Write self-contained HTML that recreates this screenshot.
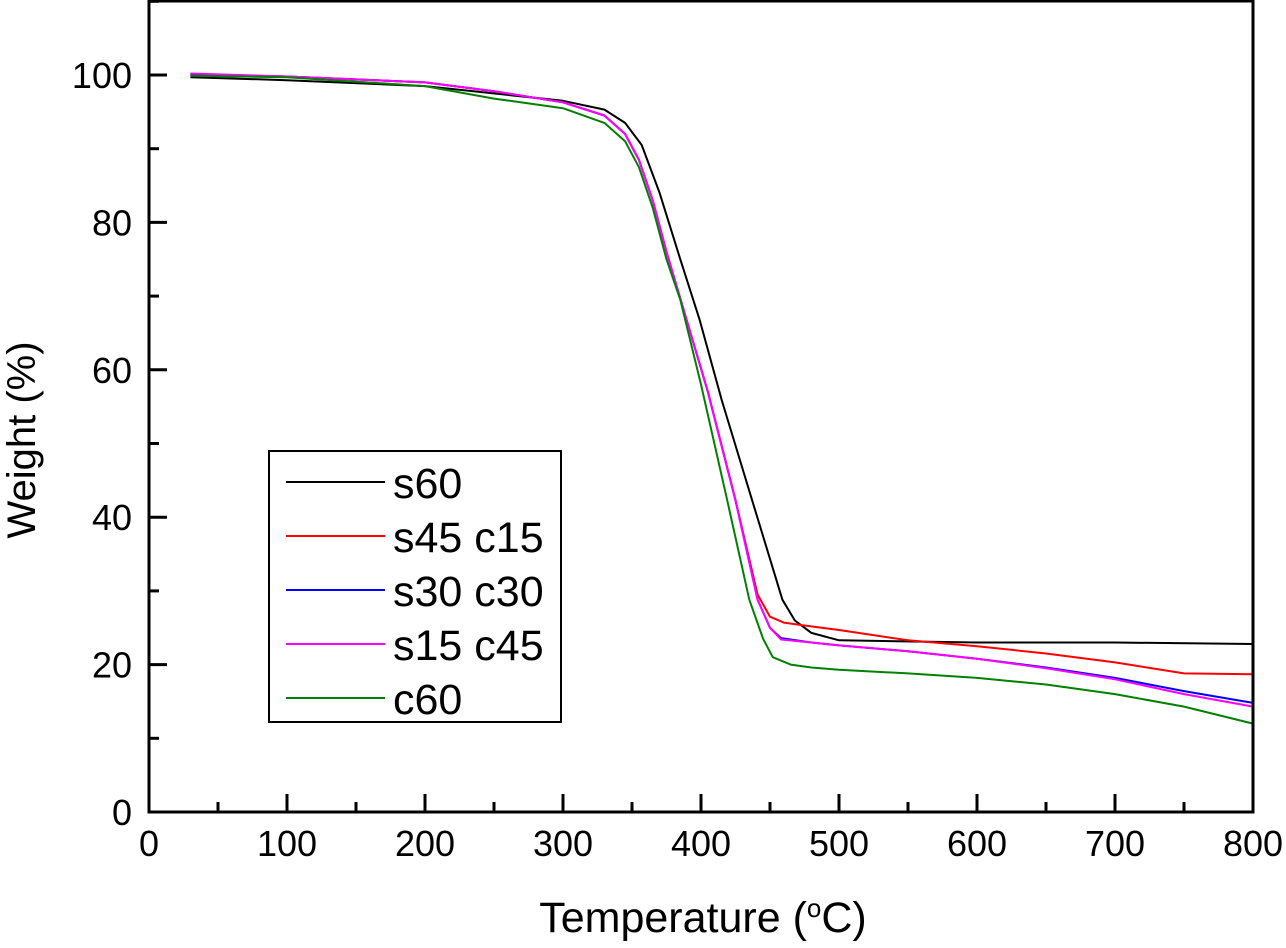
<!DOCTYPE html>
<html><head><meta charset="utf-8"><style>
html,body{margin:0;padding:0;background:#fff;}
svg text{font-family:"Liberation Sans",Arial,sans-serif;}
</style></head><body>
<svg id="chart" width="1286" height="943" viewBox="0 0 1286 943" xmlns="http://www.w3.org/2000/svg">
<g id="grid-layer"></g>
<g id="series-layer"></g>
<g id="axes-layer"></g>
</svg>
<script>
const xTicks = [0,100,200,300,400,500,600,700,800];
const yTicks = [0,20,40,60,80,100];
const seriesNames = ["s60","s45 c15","s30 c30","s15 c45","c60"];
const seriesColors = ["#000000","#ff0000","#0000ff","#ff00ff","#008000"];
const tempS60 = [30,100,200,300,330,345,357,370,385,399,415,437,459,468,480,500,600,700,800];
const wS60 = [99.7,99.3,98.5,96.5,95.3,93.5,90.5,84,75,66.8,55.9,42.3,28.8,26,24.3,23.3,23.0,23.0,22.8];
const tempS45 = [30,100,200,250,300,330,345,355,365,375,390,405,425,441,450,460,475,500,550,600,650,700,750,800];
const wS45 = [100.1,99.8,99,97.8,96.3,94.5,92,88.5,83,76,66.5,57,42.3,29.5,26.5,25.7,25.3,24.7,23.3,22.5,21.5,20.3,18.8,18.7];
const tempS30 = [30,100,200,250,300,330,345,355,365,375,390,405,425,441,450,458,480,500,550,600,650,700,750,800];
const wS30 = [100.1,99.8,99,97.8,96.3,94.5,92,88.5,83,76,66.5,57,42.3,28.8,25,23.6,23,22.6,21.8,20.8,19.6,18.2,16.4,14.8];
const tempS15 = [30,100,200,250,300,330,345,355,365,375,390,405,425,441,450,458,480,500,550,600,650,700,750,800];
const wS15 = [100.2,99.8,99,97.8,96.3,94.5,92,88.5,83,76,66.5,57,42.3,28.8,25,23.4,23,22.6,21.8,20.8,19.5,18,16,14.3];
const tempC60 = [30,100,200,250,300,330,345,355,365,375,385,400,419,435,445,452,465,480,500,550,600,650,700,750,800];
const wC60 = [99.9,99.7,98.5,96.8,95.5,93.5,91,87.5,82,75,69.5,58,42.3,28.8,23.5,21,20,19.6,19.3,18.8,18.2,17.3,16,14.3,12];

const NS="http://www.w3.org/2000/svg";
const X0=149,X1=1253,Y0=812,Ytop=1;
const xs=t=>X0+(t/800)*(X1-X0);
const ys=w=>Y0-w*7.37;
function mk(tag,attrs,parent){const e=document.createElementNS(NS,tag);for(const k in attrs)e.setAttribute(k,attrs[k]);parent.appendChild(e);return e;}
const series=document.getElementById('series-layer');
const axes=document.getElementById('axes-layer');
const allT=[tempS60,tempS45,tempS30,tempS15,tempC60];
const allW=[wS60,wS45,wS30,wS15,wC60];
const lineIds=["line-s60","line-s45-c15","line-s30-c30","line-s15-c45","line-c60"];
[0,1,2,3,4].forEach(i=>{
  const pts=allT[i].map((t,j)=>xs(t).toFixed(1)+","+ys(allW[i][j]).toFixed(1)).join(" ");
  const p=mk('polyline',{points:pts,fill:'none',stroke:seriesColors[i],'stroke-width':2,'stroke-linejoin':'round'},series);
  
  
});
const fr=mk('rect',{x:X0,y:Ytop,width:X1-X0,height:Y0-Ytop,fill:'none',stroke:'#000','stroke-width':3},axes);


for(let t=0;t<=800;t+=50){
  const major=t%100===0;
  const tk=mk('line',{x1:xs(t),x2:xs(t),y1:Y0,y2:Y0-(major?18:10),stroke:'#000','stroke-width':3},axes);
  
  
}
xTicks.forEach(t=>{
  const lb=mk('text',{x:xs(t),y:856,'font-size':36,'text-anchor':'middle',fill:'#000'},axes);
  lb.textContent=t;
  
  
});
for(let w=0;w<=110;w+=10){
  const major=w%20===0;
  const tk=mk('line',{x1:X0,x2:X0+(major?18:10),y1:ys(w),y2:ys(w),stroke:'#000','stroke-width':3},axes);
  
  
}
yTicks.forEach(w=>{
  const lb=mk('text',{x:132,y:ys(w)+13,'font-size':36,'text-anchor':'end',fill:'#000'},axes);
  lb.textContent=w;
  
  
});
const xt=mk('text',{x:703,y:932,'font-size':43,'text-anchor':'middle',fill:'#000'},axes);
xt.innerHTML='Temperature (<tspan baseline-shift="super" font-size="26">o</tspan>C)';


const yt=mk('text',{x:0,y:0,'font-size':40,'text-anchor':'middle',fill:'#000',transform:'translate(35,440) rotate(-90)'},axes);
yt.textContent='Weight (%)';


const lg=mk('g',{},axes);


const lr=mk('rect',{x:269,y:451,width:292,height:271,fill:'#fff',stroke:'#000','stroke-width':2},lg);


seriesNames.forEach((n,i)=>{
  const yy=482+i*54;
  const l=mk('line',{x1:286,x2:385,y1:yy,y2:yy,stroke:seriesColors[i],'stroke-width':2},lg);
  
  
  const t=mk('text',{x:393,y:yy+16,'font-size':43,fill:'#000'},lg);
  t.textContent=n;
  
  
});
</script>
</body></html>
